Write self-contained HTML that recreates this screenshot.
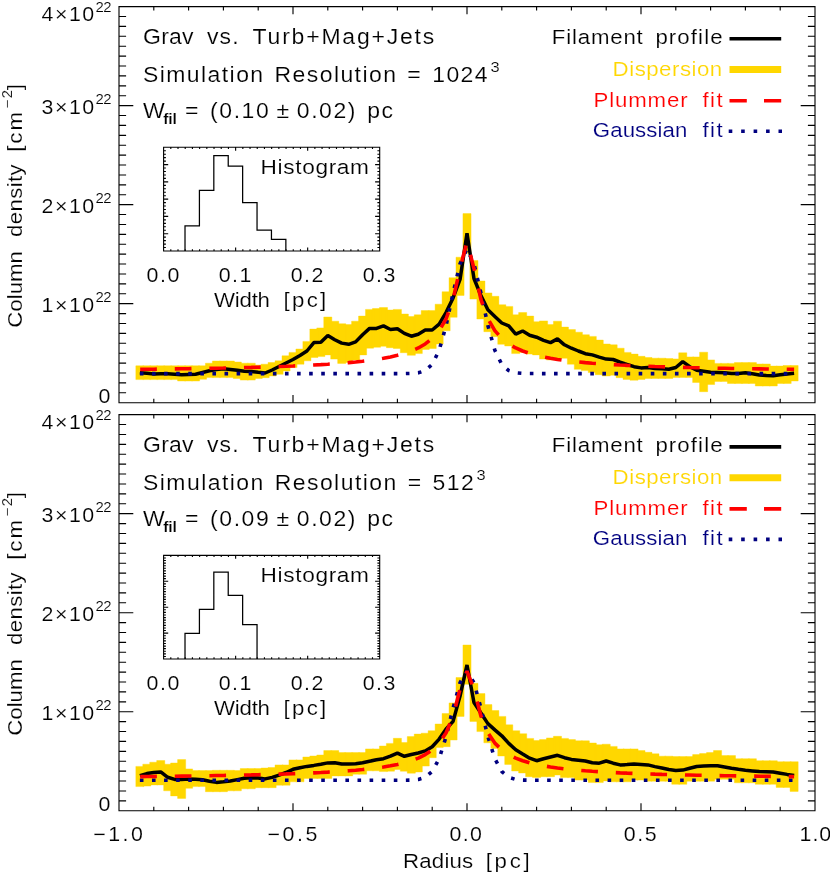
<!DOCTYPE html>
<html lang="en"><head><meta charset="utf-8"><title>Filament profiles</title>
<style>html,body{margin:0;padding:0;background:#fff;}body{width:830px;height:877px;overflow:hidden;font-family:"Liberation Sans", sans-serif;}svg text{font-family:"Liberation Sans", sans-serif;}</style></head>
<body>
<svg width="830" height="877" viewBox="0 0 830 877" style="display:block;font-family:&quot;Liberation Sans&quot;, sans-serif" font-family='Liberation Sans, sans-serif'>
<rect x="0" y="0" width="830" height="877" fill="#ffffff"/>
<g style="will-change:transform">
<path d="M135.83 365.80h8.1V379.60h-8.1zM142.79 365.80h8.1V379.60h-8.1zM149.75 365.80h8.1V379.60h-8.1zM156.71 365.80h8.1V379.60h-8.1zM163.67 365.80h8.1V379.60h-8.1zM170.63 365.80h8.1V379.60h-8.1zM177.59 365.80h8.1V381.00h-8.1zM184.55 365.80h8.1V381.00h-8.1zM191.51 365.80h8.1V381.00h-8.1zM198.47 365.80h8.1V379.30h-8.1zM205.43 363.20h8.1V377.60h-8.1zM212.39 361.00h8.1V377.60h-8.1zM219.35 361.00h8.1V377.60h-8.1zM226.31 361.00h8.1V377.60h-8.1zM233.27 362.00h8.1V378.50h-8.1zM240.23 363.20h8.1V380.10h-8.1zM247.19 363.20h8.1V380.10h-8.1zM254.15 365.00h8.1V378.50h-8.1zM261.11 364.20h8.1V377.70h-8.1zM268.07 362.50h8.1V376.00h-8.1zM275.03 360.80h8.1V374.30h-8.1zM281.99 355.80h8.1V371.00h-8.1zM288.95 352.40h8.1V367.60h-8.1zM295.91 349.00h8.1V364.20h-8.1zM302.87 341.40h8.1V360.80h-8.1zM309.83 329.10h8.1V357.50h-8.1zM316.79 327.90h8.1V356.60h-8.1zM323.75 317.00h8.1V354.90h-8.1zM330.71 321.20h8.1V359.10h-8.1zM337.67 323.70h8.1V363.40h-8.1zM344.63 324.60h8.1V362.50h-8.1zM351.59 321.20h8.1V360.00h-8.1zM358.55 316.10h8.1V354.90h-8.1zM365.51 309.40h8.1V348.20h-8.1zM372.47 308.50h8.1V347.30h-8.1zM379.43 307.50h8.1V346.30h-8.1zM386.39 310.00h8.1V347.70h-8.1zM393.35 309.40h8.1V348.50h-8.1zM400.31 314.00h8.1V352.70h-8.1zM407.27 316.50h8.1V355.30h-8.1zM414.23 314.80h8.1V353.60h-8.1zM421.19 310.60h8.1V349.40h-8.1zM428.15 310.60h8.1V348.50h-8.1zM435.11 304.20h8.1V344.00h-8.1zM442.07 291.70h8.1V330.80h-8.1zM449.03 277.70h8.1V317.30h-8.1zM455.99 257.20h8.1V295.40h-8.1zM462.95 213.60h8.1V253.30h-8.1zM469.91 260.60h8.1V299.10h-8.1zM476.87 281.00h8.1V319.00h-8.1zM483.83 292.90h8.1V331.70h-8.1zM490.79 296.30h8.1V336.70h-8.1zM497.75 304.70h8.1V344.30h-8.1zM504.71 306.40h8.1V346.00h-8.1zM511.67 314.80h8.1V353.60h-8.1zM518.63 312.50h8.1V352.50h-8.1zM525.59 316.10h8.1V354.10h-8.1zM532.55 321.70h8.1V354.90h-8.1zM539.51 320.90h8.1V359.10h-8.1zM546.47 324.60h8.1V360.00h-8.1zM553.43 321.20h8.1V358.80h-8.1zM560.39 327.10h8.1V358.30h-8.1zM567.35 329.60h8.1V364.20h-8.1zM574.31 332.20h8.1V369.30h-8.1zM581.27 334.70h8.1V370.60h-8.1zM588.23 336.40h8.1V372.60h-8.1zM595.19 340.10h8.1V374.70h-8.1zM602.15 344.00h8.1V376.00h-8.1zM609.11 344.80h8.1V375.20h-8.1zM616.07 348.20h8.1V377.70h-8.1zM623.03 352.40h8.1V379.40h-8.1zM629.99 354.10h8.1V380.20h-8.1zM636.95 356.30h8.1V379.40h-8.1zM643.91 357.50h8.1V378.50h-8.1zM650.87 358.20h8.1V378.40h-8.1zM657.83 358.20h8.1V378.40h-8.1zM664.79 358.60h8.1V378.40h-8.1zM671.75 358.90h8.1V377.40h-8.1zM678.71 352.80h8.1V377.40h-8.1zM685.67 356.90h8.1V377.40h-8.1zM692.63 356.90h8.1V382.50h-8.1zM699.59 352.20h8.1V391.70h-8.1zM706.55 359.90h8.1V384.50h-8.1zM713.51 363.40h8.1V381.40h-8.1zM720.47 363.40h8.1V381.40h-8.1zM727.43 363.40h8.1V383.50h-8.1zM734.39 362.60h8.1V383.50h-8.1zM741.35 362.60h8.1V383.50h-8.1zM748.31 362.60h8.1V383.50h-8.1zM755.27 364.00h8.1V386.00h-8.1zM762.23 364.00h8.1V386.00h-8.1zM769.19 366.10h8.1V386.00h-8.1zM776.15 366.10h8.1V383.50h-8.1zM783.11 365.50h8.1V383.50h-8.1zM790.07 365.50h8.1V381.00h-8.1z" fill="#ffd700" stroke="#ffd700" stroke-width="0.4"/>
<polyline points="139.88,372.80 146.84,373.35 153.80,373.90 160.76,373.80 167.72,373.70 174.68,374.20 181.64,374.70 188.60,374.45 195.56,374.20 202.52,372.50 209.48,370.80 216.44,369.50 223.40,368.80 230.36,369.50 237.32,370.30 244.28,371.20 251.24,371.50 258.20,372.30 265.16,373.00 272.12,370.00 279.08,366.50 286.04,363.00 293.00,359.50 299.96,355.50 306.92,351.00 313.88,342.60 320.84,342.30 327.80,335.50 334.76,339.70 341.72,343.10 348.68,344.30 355.64,341.90 362.60,334.70 369.56,328.40 376.52,328.40 383.48,325.90 390.44,329.50 397.40,328.80 404.36,333.40 411.32,336.20 418.28,334.20 425.24,330.00 432.20,330.00 439.16,324.10 446.12,312.30 453.08,297.90 460.04,279.50 467.00,233.30 473.96,278.50 480.92,295.50 487.88,309.80 494.84,316.50 501.80,323.00 508.76,325.80 515.72,334.20 522.68,331.00 529.64,335.20 536.60,337.20 543.56,340.30 550.52,342.60 557.48,338.90 564.44,344.80 571.40,348.20 578.36,351.00 585.32,353.70 592.28,354.90 599.24,357.10 606.20,359.10 613.16,359.50 620.12,362.20 627.08,364.50 634.04,366.70 641.00,367.90 647.96,367.60 654.92,368.40 661.88,368.80 668.84,369.20 675.80,367.50 682.76,361.60 689.72,366.70 696.68,370.20 703.64,371.20 710.60,372.20 717.56,372.50 724.52,372.80 731.48,373.50 738.44,373.40 745.40,372.80 752.36,373.80 759.32,374.90 766.28,375.50 773.24,375.70 780.20,374.80 787.16,373.90 794.12,373.30" fill="none" stroke="#000000" stroke-width="3.5" stroke-linejoin="bevel"/>
<polyline points="139.88,373.59 146.84,373.59 153.80,373.59 160.76,373.59 167.72,373.59 174.68,373.59 181.64,373.59 188.60,373.59 195.56,373.59 202.52,373.59 209.48,373.59 216.44,373.59 223.40,373.59 230.36,373.59 237.32,373.59 244.28,373.59 251.24,373.59 258.20,373.59 265.16,373.59 272.12,373.59 279.08,373.59 286.04,373.59 293.00,373.59 299.96,373.59 306.92,373.59 313.88,373.59 320.84,373.59 327.80,373.59 334.76,373.59 341.72,373.59 348.68,373.59 355.64,373.59 362.60,373.59 369.56,373.59 376.52,373.59 383.48,373.59 390.44,373.59 397.40,373.58 404.36,373.56 411.32,373.42 418.28,372.82 425.24,370.63 432.20,364.38 439.16,350.26 446.12,325.52 453.08,293.01 460.04,263.74 467.00,248.89 473.96,263.74 480.92,293.01 487.88,325.52 494.84,350.26 501.80,364.38 508.76,370.63 515.72,372.82 522.68,373.42 529.64,373.56 536.60,373.58 543.56,373.59 550.52,373.59 557.48,373.59 564.44,373.59 571.40,373.59 578.36,373.59 585.32,373.59 592.28,373.59 599.24,373.59 606.20,373.59 613.16,373.59 620.12,373.59 627.08,373.59 634.04,373.59 641.00,373.59 647.96,373.59 654.92,373.59 661.88,373.59 668.84,373.59 675.80,373.59 682.76,373.59 689.72,373.59 696.68,373.59 703.64,373.59 710.60,373.59 717.56,373.59 724.52,373.59 731.48,373.59 738.44,373.59 745.40,373.59 752.36,373.59 759.32,373.59 766.28,373.59 773.24,373.59 780.20,373.59 787.16,373.59 794.12,373.59" fill="none" stroke="#000080" stroke-width="3.6" stroke-dasharray="3.6 8.49" stroke-dashoffset="0" stroke-linejoin="bevel"/>
<polyline points="139.88,369.36 146.84,369.27 153.80,369.19 160.76,369.10 167.72,369.00 174.68,368.90 181.64,368.80 188.60,368.69 195.56,368.57 202.52,368.45 209.48,368.32 216.44,368.19 223.40,368.05 230.36,367.89 237.32,367.73 244.28,367.56 251.24,367.38 258.20,367.19 265.16,366.98 272.12,366.76 279.08,366.52 286.04,366.27 293.00,365.99 299.96,365.69 306.92,365.37 313.88,365.02 320.84,364.63 327.80,364.20 334.76,363.73 341.72,363.21 348.68,362.62 355.64,361.97 362.60,361.23 369.56,360.38 376.52,359.41 383.48,358.27 390.44,356.94 397.40,355.34 404.36,353.40 411.32,351.00 418.28,347.94 425.24,343.94 432.20,338.48 439.16,330.66 446.12,318.75 453.08,299.37 460.04,268.44 467.00,241.46 473.96,268.44 480.92,299.37 487.88,318.75 494.84,330.66 501.80,338.48 508.76,343.94 515.72,347.94 522.68,351.00 529.64,353.40 536.60,355.34 543.56,356.94 550.52,358.27 557.48,359.41 564.44,360.38 571.40,361.23 578.36,361.97 585.32,362.62 592.28,363.21 599.24,363.73 606.20,364.20 613.16,364.63 620.12,365.02 627.08,365.37 634.04,365.69 641.00,365.99 647.96,366.27 654.92,366.52 661.88,366.76 668.84,366.98 675.80,367.19 682.76,367.38 689.72,367.56 696.68,367.73 703.64,367.89 710.60,368.05 717.56,368.19 724.52,368.32 731.48,368.45 738.44,368.57 745.40,368.69 752.36,368.80 759.32,368.90 766.28,369.00 773.24,369.10 780.20,369.19 787.16,369.27 794.12,369.36" fill="none" stroke="#ff0000" stroke-width="3.6" stroke-dasharray="16.7 17.9" stroke-dashoffset="-0.3" stroke-linejoin="bevel"/>
<path d="M119.00 6.60H815.00V402.70H119.00ZM153.80 402.70v-3.90M153.80 6.60v3.90M188.60 402.70v-3.90M188.60 6.60v3.90M223.40 402.70v-3.90M223.40 6.60v3.90M258.20 402.70v-3.90M258.20 6.60v3.90M293.00 402.70v-7.60M293.00 6.60v7.60M327.80 402.70v-3.90M327.80 6.60v3.90M362.60 402.70v-3.90M362.60 6.60v3.90M397.40 402.70v-3.90M397.40 6.60v3.90M432.20 402.70v-3.90M432.20 6.60v3.90M467.00 402.70v-7.60M467.00 6.60v7.60M501.80 402.70v-3.90M501.80 6.60v3.90M536.60 402.70v-3.90M536.60 6.60v3.90M571.40 402.70v-3.90M571.40 6.60v3.90M606.20 402.70v-3.90M606.20 6.60v3.90M641.00 402.70v-7.60M641.00 6.60v7.60M675.80 402.70v-3.90M675.80 6.60v3.90M710.60 402.70v-3.90M710.60 6.60v3.90M745.40 402.70v-3.90M745.40 6.60v3.90M780.20 402.70v-3.90M780.20 6.60v3.90M119.00 392.80h7.10M815.00 392.80h-7.10M119.00 382.89h7.10M815.00 382.89h-7.10M119.00 372.99h7.10M815.00 372.99h-7.10M119.00 363.09h7.10M815.00 363.09h-7.10M119.00 353.19h7.10M815.00 353.19h-7.10M119.00 343.28h7.10M815.00 343.28h-7.10M119.00 333.38h7.10M815.00 333.38h-7.10M119.00 323.48h7.10M815.00 323.48h-7.10M119.00 313.58h7.10M815.00 313.58h-7.10M119.00 303.68h14.30M815.00 303.68h-14.30M119.00 293.77h7.10M815.00 293.77h-7.10M119.00 283.87h7.10M815.00 283.87h-7.10M119.00 273.97h7.10M815.00 273.97h-7.10M119.00 264.06h7.10M815.00 264.06h-7.10M119.00 254.16h7.10M815.00 254.16h-7.10M119.00 244.26h7.10M815.00 244.26h-7.10M119.00 234.36h7.10M815.00 234.36h-7.10M119.00 224.46h7.10M815.00 224.46h-7.10M119.00 214.55h7.10M815.00 214.55h-7.10M119.00 204.65h14.30M815.00 204.65h-14.30M119.00 194.75h7.10M815.00 194.75h-7.10M119.00 184.85h7.10M815.00 184.85h-7.10M119.00 174.94h7.10M815.00 174.94h-7.10M119.00 165.04h7.10M815.00 165.04h-7.10M119.00 155.14h7.10M815.00 155.14h-7.10M119.00 145.24h7.10M815.00 145.24h-7.10M119.00 135.33h7.10M815.00 135.33h-7.10M119.00 125.43h7.10M815.00 125.43h-7.10M119.00 115.53h7.10M815.00 115.53h-7.10M119.00 105.63h14.30M815.00 105.63h-14.30M119.00 95.72h7.10M815.00 95.72h-7.10M119.00 85.82h7.10M815.00 85.82h-7.10M119.00 75.92h7.10M815.00 75.92h-7.10M119.00 66.01h7.10M815.00 66.01h-7.10M119.00 56.11h7.10M815.00 56.11h-7.10M119.00 46.21h7.10M815.00 46.21h-7.10M119.00 36.31h7.10M815.00 36.31h-7.10M119.00 26.41h7.10M815.00 26.41h-7.10M119.00 16.50h7.10M815.00 16.50h-7.10" fill="none" stroke="#000" stroke-width="1.12" stroke-linecap="butt" stroke-linejoin="miter"/>
<text transform="translate(41.60 311.88) scale(1.080 1)" font-size="19.80" text-anchor="start" fill="#000" textLength="48.70" lengthAdjust="spacing" stroke="#fff" stroke-width="0.15" stroke-linejoin="round" >1×10</text>
<text transform="translate(95.60 302.07) scale(1.080 1)" font-size="13.80" text-anchor="start" fill="#000" textLength="14.81" lengthAdjust="spacing" stroke="#fff" stroke-width="0.15" stroke-linejoin="round" >22</text>
<text transform="translate(41.60 212.85) scale(1.080 1)" font-size="19.80" text-anchor="start" fill="#000" textLength="48.70" lengthAdjust="spacing" stroke="#fff" stroke-width="0.15" stroke-linejoin="round" >2×10</text>
<text transform="translate(95.60 203.05) scale(1.080 1)" font-size="13.80" text-anchor="start" fill="#000" textLength="14.81" lengthAdjust="spacing" stroke="#fff" stroke-width="0.15" stroke-linejoin="round" >22</text>
<text transform="translate(41.60 113.83) scale(1.080 1)" font-size="19.80" text-anchor="start" fill="#000" textLength="48.70" lengthAdjust="spacing" stroke="#fff" stroke-width="0.15" stroke-linejoin="round" >3×10</text>
<text transform="translate(95.60 104.03) scale(1.080 1)" font-size="13.80" text-anchor="start" fill="#000" textLength="14.81" lengthAdjust="spacing" stroke="#fff" stroke-width="0.15" stroke-linejoin="round" >22</text>
<text transform="translate(41.60 21.40) scale(1.080 1)" font-size="19.80" text-anchor="start" fill="#000" textLength="48.70" lengthAdjust="spacing" stroke="#fff" stroke-width="0.15" stroke-linejoin="round" >4×10</text>
<text transform="translate(95.60 11.60) scale(1.080 1)" font-size="13.80" text-anchor="start" fill="#000" textLength="14.81" lengthAdjust="spacing" stroke="#fff" stroke-width="0.15" stroke-linejoin="round" >22</text>
<text transform="translate(98.60 402.50) scale(1.080 1)" font-size="19.80" text-anchor="start" fill="#000" textLength="11.48" lengthAdjust="spacing" stroke="#fff" stroke-width="0.15" stroke-linejoin="round" >0</text>
<g transform="translate(22.3 327.80) rotate(-90)">
<text transform="translate(0.00 0.00) scale(1.080 1)" font-size="20.60" text-anchor="start" fill="#000" textLength="71.11" lengthAdjust="spacing" stroke="#fff" stroke-width="0.15" stroke-linejoin="round" >Column</text>
<text transform="translate(90.90 0.00) scale(1.080 1)" font-size="20.60" text-anchor="start" fill="#000" textLength="67.22" lengthAdjust="spacing" stroke="#fff" stroke-width="0.15" stroke-linejoin="round" >density</text>
<text transform="translate(176.00 0.00) scale(1.080 1)" font-size="20.60" text-anchor="start" fill="#000" textLength="36.85" lengthAdjust="spacing" stroke="#fff" stroke-width="0.15" stroke-linejoin="round" >[cm</text>
<text transform="translate(219.30 -10.30) scale(1.080 1)" font-size="13.80" text-anchor="start" fill="#000" textLength="17.22" lengthAdjust="spacing" stroke="#fff" stroke-width="0.15" stroke-linejoin="round" >−2</text>
<text transform="translate(237.60 0.00) scale(1.080 1)" font-size="20.60" text-anchor="start" fill="#000" stroke="#fff" stroke-width="0.15" stroke-linejoin="round" >]</text>
</g>
<text transform="translate(143.00 44.20) scale(1.080 1)" font-size="21.30" text-anchor="start" fill="#000" textLength="46.85" lengthAdjust="spacing" stroke="#fff" stroke-width="0.15" stroke-linejoin="round" >Grav</text>
<text transform="translate(207.00 44.20) scale(1.080 1)" font-size="21.30" text-anchor="start" fill="#000" textLength="29.26" lengthAdjust="spacing" stroke="#fff" stroke-width="0.15" stroke-linejoin="round" >vs.</text>
<text transform="translate(252.60 44.20) scale(1.080 1)" font-size="21.30" text-anchor="start" fill="#000" textLength="168.15" lengthAdjust="spacing" stroke="#fff" stroke-width="0.15" stroke-linejoin="round" >Turb+Mag+Jets</text>
<text transform="translate(143.00 81.60) scale(1.080 1)" font-size="21.30" text-anchor="start" fill="#000" word-spacing="2.00" textLength="319.07" lengthAdjust="spacing" stroke="#fff" stroke-width="0.15" stroke-linejoin="round" >Simulation Resolution = 1024</text>
<text transform="translate(490.40 72.40) scale(1.080 1)" font-size="15.20" text-anchor="start" fill="#000" stroke="#fff" stroke-width="0.15" stroke-linejoin="round" >3</text>
<text transform="translate(143.00 117.60) scale(1.080 1)" font-size="21.30" text-anchor="start" fill="#000" textLength="17.04" lengthAdjust="spacing" stroke="#fff" stroke-width="0.15" stroke-linejoin="round" >W</text>
<text transform="translate(163.20 124.00) scale(1.080 1)" font-size="14.60" text-anchor="start" fill="#000" textLength="12.59" lengthAdjust="spacing" font-weight="bold" stroke="#fff" stroke-width="0.15" stroke-linejoin="round" >fil</text>
<text transform="translate(185.00 117.60) scale(1.080 1)" font-size="21.30" text-anchor="start" fill="#000" word-spacing="2.00" textLength="192.59" lengthAdjust="spacing" stroke="#fff" stroke-width="0.15" stroke-linejoin="round" >= (0.10 ± 0.02) pc</text>
<text transform="translate(551.80 44.40) scale(1.080 1)" font-size="20.60" text-anchor="start" fill="#000" textLength="84.26" lengthAdjust="spacing" stroke="#fff" stroke-width="0.15" stroke-linejoin="round" >Filament</text>
<text transform="translate(655.40 44.40) scale(1.080 1)" font-size="20.60" text-anchor="start" fill="#000" textLength="62.22" lengthAdjust="spacing" stroke="#fff" stroke-width="0.15" stroke-linejoin="round" >profile</text>
<text transform="translate(722.20 75.60) scale(1.080 1)" font-size="20.60" text-anchor="end" fill="#ffd700" textLength="101.48" lengthAdjust="spacing" stroke="#fff" stroke-width="0.15" stroke-linejoin="round" >Dispersion</text>
<text transform="translate(593.60 106.60) scale(1.080 1)" font-size="20.60" text-anchor="start" fill="#ff0000" textLength="87.04" lengthAdjust="spacing" stroke="#fff" stroke-width="0.15" stroke-linejoin="round" >Plummer</text>
<text transform="translate(702.40 106.60) scale(1.080 1)" font-size="20.60" text-anchor="start" fill="#ff0000" textLength="18.70" lengthAdjust="spacing" stroke="#fff" stroke-width="0.15" stroke-linejoin="round" >fit</text>
<text transform="translate(592.80 137.20) scale(1.080 1)" font-size="20.60" text-anchor="start" fill="#000080" textLength="87.59" lengthAdjust="spacing" stroke="#fff" stroke-width="0.15" stroke-linejoin="round" >Gaussian</text>
<text transform="translate(702.40 137.20) scale(1.080 1)" font-size="20.60" text-anchor="start" fill="#000080" textLength="18.70" lengthAdjust="spacing" stroke="#fff" stroke-width="0.15" stroke-linejoin="round" >fit</text>
<path d="M729.5 38.80H781.2" stroke="#000" stroke-width="3.6" fill="none"/>
<path d="M729.5 69.60H781.2" stroke="#ffd700" stroke-width="7" fill="none"/>
<path d="M729.5 100.80H781.2" stroke="#ff0000" stroke-width="3.6" stroke-dasharray="17.3 17.2" fill="none"/>
<path d="M728.7 131.30H782" stroke="#000080" stroke-width="3.6" stroke-dasharray="3.6 8.85" fill="none"/>
<path d="M163.60 147.30H379.70V251.00H163.60ZM170.80 251.00v-1.70M170.80 147.30v1.70M178.01 251.00v-1.70M178.01 147.30v1.70M185.21 251.00v-1.70M185.21 147.30v1.70M192.41 251.00v-1.70M192.41 147.30v1.70M199.62 251.00v-1.70M199.62 147.30v1.70M206.82 251.00v-1.70M206.82 147.30v1.70M214.02 251.00v-1.70M214.02 147.30v1.70M221.23 251.00v-1.70M221.23 147.30v1.70M228.43 251.00v-1.70M228.43 147.30v1.70M235.63 251.00v-3.40M235.63 147.30v3.40M242.84 251.00v-1.70M242.84 147.30v1.70M250.04 251.00v-1.70M250.04 147.30v1.70M257.24 251.00v-1.70M257.24 147.30v1.70M264.45 251.00v-1.70M264.45 147.30v1.70M271.65 251.00v-1.70M271.65 147.30v1.70M278.85 251.00v-1.70M278.85 147.30v1.70M286.06 251.00v-1.70M286.06 147.30v1.70M293.26 251.00v-1.70M293.26 147.30v1.70M300.46 251.00v-1.70M300.46 147.30v1.70M307.67 251.00v-3.40M307.67 147.30v3.40M314.87 251.00v-1.70M314.87 147.30v1.70M322.07 251.00v-1.70M322.07 147.30v1.70M329.28 251.00v-1.70M329.28 147.30v1.70M336.48 251.00v-1.70M336.48 147.30v1.70M343.68 251.00v-1.70M343.68 147.30v1.70M350.89 251.00v-1.70M350.89 147.30v1.70M358.09 251.00v-1.70M358.09 147.30v1.70M365.29 251.00v-1.70M365.29 147.30v1.70M372.50 251.00v-1.70M372.50 147.30v1.70M163.60 247.54h2.30M379.70 247.54h-2.30M163.60 244.09h2.30M379.70 244.09h-2.30M163.60 240.63h2.30M379.70 240.63h-2.30M163.60 237.17h2.30M379.70 237.17h-2.30M163.60 233.72h4.60M379.70 233.72h-4.60M163.60 230.26h2.30M379.70 230.26h-2.30M163.60 226.80h2.30M379.70 226.80h-2.30M163.60 223.35h2.30M379.70 223.35h-2.30M163.60 219.89h2.30M379.70 219.89h-2.30M163.60 216.43h4.60M379.70 216.43h-4.60M163.60 212.98h2.30M379.70 212.98h-2.30M163.60 209.52h2.30M379.70 209.52h-2.30M163.60 206.06h2.30M379.70 206.06h-2.30M163.60 202.61h2.30M379.70 202.61h-2.30M163.60 199.15h4.60M379.70 199.15h-4.60M163.60 195.69h2.30M379.70 195.69h-2.30M163.60 192.24h2.30M379.70 192.24h-2.30M163.60 188.78h2.30M379.70 188.78h-2.30M163.60 185.32h2.30M379.70 185.32h-2.30M163.60 181.87h4.60M379.70 181.87h-4.60M163.60 178.41h2.30M379.70 178.41h-2.30M163.60 174.95h2.30M379.70 174.95h-2.30M163.60 171.50h2.30M379.70 171.50h-2.30M163.60 168.04h2.30M379.70 168.04h-2.30M163.60 164.58h4.60M379.70 164.58h-4.60M163.60 161.13h2.30M379.70 161.13h-2.30M163.60 157.67h2.30M379.70 157.67h-2.30M163.60 154.21h2.30M379.70 154.21h-2.30M163.60 150.76h2.30M379.70 150.76h-2.30" fill="none" stroke="#000" stroke-width="1.12"/>
<path d="M185.01 251.00V225.90H199.42V190.40H213.82V155.60H228.23V166.00H242.64V202.60H257.04V230.20H271.45V239.40H285.86V251.00" fill="none" stroke="#000" stroke-width="1.25" stroke-linejoin="miter"/>
<text transform="translate(260.60 174.30) scale(1.080 1)" font-size="21.00" text-anchor="start" fill="#000" textLength="100.37" lengthAdjust="spacing" stroke="#fff" stroke-width="0.15" stroke-linejoin="round" >Histogram</text>
<text transform="translate(146.60 282.20) scale(1.080 1)" font-size="19.80" text-anchor="start" fill="#000" textLength="30.37" lengthAdjust="spacing" stroke="#fff" stroke-width="0.15" stroke-linejoin="round" >0.0</text>
<text transform="translate(218.63 282.20) scale(1.080 1)" font-size="19.80" text-anchor="start" fill="#000" textLength="30.37" lengthAdjust="spacing" stroke="#fff" stroke-width="0.15" stroke-linejoin="round" >0.1</text>
<text transform="translate(290.67 282.20) scale(1.080 1)" font-size="19.80" text-anchor="start" fill="#000" textLength="30.37" lengthAdjust="spacing" stroke="#fff" stroke-width="0.15" stroke-linejoin="round" >0.2</text>
<text transform="translate(362.70 282.20) scale(1.080 1)" font-size="19.80" text-anchor="start" fill="#000" textLength="30.37" lengthAdjust="spacing" stroke="#fff" stroke-width="0.15" stroke-linejoin="round" >0.3</text>
<text transform="translate(214.00 307.20) scale(1.080 1)" font-size="20.60" text-anchor="start" fill="#000" textLength="51.85" lengthAdjust="spacing" stroke="#fff" stroke-width="0.15" stroke-linejoin="round" >Width</text>
<text transform="translate(283.60 307.20) scale(1.080 1)" font-size="20.60" text-anchor="start" fill="#000" textLength="39.44" lengthAdjust="spacing" stroke="#fff" stroke-width="0.15" stroke-linejoin="round" >[pc]</text>
<path d="M135.83 766.40h8.1V786.60h-8.1zM142.79 764.20h8.1V786.10h-8.1zM149.75 762.20h8.1V784.90h-8.1zM156.71 760.50h8.1V784.90h-8.1zM163.67 764.20h8.1V790.80h-8.1zM170.63 763.00h8.1V795.90h-8.1zM177.59 759.60h8.1V798.40h-8.1zM184.55 768.90h8.1V788.30h-8.1zM191.51 770.60h8.1V786.60h-8.1zM198.47 770.60h8.1V786.60h-8.1zM205.43 770.60h8.1V791.70h-8.1zM212.39 770.30h8.1V791.70h-8.1zM219.35 770.30h8.1V791.70h-8.1zM226.31 770.30h8.1V790.80h-8.1zM233.27 770.60h8.1V790.80h-8.1zM240.23 768.60h8.1V788.80h-8.1zM247.19 768.60h8.1V788.80h-8.1zM254.15 768.60h8.1V787.70h-8.1zM261.11 768.00h8.1V787.70h-8.1zM268.07 767.50h8.1V787.70h-8.1zM275.03 764.90h8.1V785.20h-8.1zM281.99 764.90h8.1V785.20h-8.1zM288.95 759.90h8.1V781.80h-8.1zM295.91 759.90h8.1V781.80h-8.1zM302.87 757.00h8.1V778.40h-8.1zM309.83 756.00h8.1V778.40h-8.1zM316.79 755.00h8.1V778.40h-8.1zM323.75 750.60h8.1V778.40h-8.1zM330.71 750.60h8.1V775.90h-8.1zM337.67 752.60h8.1V775.90h-8.1zM344.63 752.60h8.1V775.90h-8.1zM351.59 752.60h8.1V774.20h-8.1zM358.55 752.60h8.1V774.20h-8.1zM365.51 748.90h8.1V770.80h-8.1zM372.47 748.90h8.1V770.80h-8.1zM379.43 746.00h8.1V771.60h-8.1zM386.39 743.40h8.1V771.20h-8.1zM393.35 738.30h8.1V769.50h-8.1zM400.31 742.50h8.1V771.20h-8.1zM407.27 736.60h8.1V773.20h-8.1zM414.23 734.10h8.1V772.00h-8.1zM421.19 733.20h8.1V766.10h-8.1zM428.15 730.70h8.1V757.70h-8.1zM435.11 724.00h8.1V747.60h-8.1zM442.07 713.50h8.1V746.70h-8.1zM449.03 702.90h8.1V740.00h-8.1zM455.99 677.50h8.1V716.40h-8.1zM462.95 645.00h8.1V684.30h-8.1zM469.91 683.30h8.1V721.40h-8.1zM476.87 693.60h8.1V731.60h-8.1zM483.83 704.60h8.1V742.80h-8.1zM490.79 710.50h8.1V748.40h-8.1zM497.75 716.40h8.1V756.00h-8.1zM504.71 724.80h8.1V764.40h-8.1zM511.67 730.70h8.1V771.00h-8.1zM518.63 733.70h8.1V773.00h-8.1zM525.59 738.40h8.1V776.70h-8.1zM532.55 740.50h8.1V777.60h-8.1zM539.51 739.60h8.1V776.70h-8.1zM546.47 737.90h8.1V776.70h-8.1zM553.43 736.30h8.1V775.00h-8.1zM560.39 738.40h8.1V777.60h-8.1zM567.35 739.60h8.1V777.60h-8.1zM574.31 740.80h8.1V780.10h-8.1zM581.27 740.80h8.1V780.10h-8.1zM588.23 743.00h8.1V782.60h-8.1zM595.19 744.70h8.1V782.60h-8.1zM602.15 744.20h8.1V780.90h-8.1zM609.11 746.40h8.1V781.80h-8.1zM616.07 748.90h8.1V781.80h-8.1zM623.03 748.90h8.1V781.80h-8.1zM629.99 748.90h8.1V780.10h-8.1zM636.95 750.60h8.1V780.10h-8.1zM643.91 752.30h8.1V781.20h-8.1zM650.87 753.80h8.1V781.20h-8.1zM657.83 756.20h8.1V781.20h-8.1zM664.79 756.20h8.1V781.20h-8.1zM671.75 756.60h8.1V784.30h-8.1zM678.71 756.60h8.1V784.30h-8.1zM685.67 756.60h8.1V781.20h-8.1zM692.63 754.60h8.1V781.20h-8.1zM699.59 753.50h8.1V781.20h-8.1zM706.55 752.50h8.1V781.20h-8.1zM713.51 750.50h8.1V779.20h-8.1zM720.47 755.60h8.1V779.20h-8.1zM727.43 755.60h8.1V779.20h-8.1zM734.39 758.70h8.1V782.80h-8.1zM741.35 758.70h8.1V782.80h-8.1zM748.31 758.70h8.1V782.80h-8.1zM755.27 760.70h8.1V784.30h-8.1zM762.23 760.70h8.1V784.30h-8.1zM769.19 760.70h8.1V784.30h-8.1zM776.15 761.70h8.1V787.40h-8.1zM783.11 761.70h8.1V787.40h-8.1zM790.07 761.70h8.1V791.40h-8.1z" fill="#ffd700" stroke="#ffd700" stroke-width="0.4"/>
<polyline points="139.88,775.60 146.84,773.60 153.80,772.60 160.76,771.90 167.72,777.30 174.68,779.40 181.64,779.40 188.60,779.10 195.56,779.20 202.52,779.80 209.48,781.20 216.44,782.40 223.40,781.80 230.36,781.00 237.32,779.60 244.28,778.20 251.24,777.80 258.20,777.90 265.16,778.90 272.12,777.40 279.08,775.20 286.04,772.50 293.00,769.30 299.96,767.70 306.92,766.40 313.88,765.40 320.84,764.20 327.80,762.90 334.76,762.70 341.72,764.00 348.68,764.10 355.64,763.80 362.60,762.70 369.56,761.20 376.52,759.80 383.48,758.70 390.44,756.20 397.40,753.10 404.36,756.30 411.32,754.50 418.28,753.00 425.24,750.90 432.20,746.70 439.16,739.10 446.12,729.00 453.08,721.40 460.04,696.00 467.00,665.00 473.96,702.50 480.92,713.00 487.88,723.60 494.84,729.90 501.80,735.80 508.76,743.40 515.72,749.70 522.68,754.00 529.64,758.20 536.60,760.70 543.56,758.70 550.52,757.00 557.48,755.30 564.44,757.70 571.40,759.40 578.36,760.20 585.32,761.00 592.28,762.70 599.24,763.20 606.20,761.00 613.16,763.20 620.12,764.90 627.08,764.60 634.04,764.10 641.00,764.40 647.96,764.90 654.92,766.60 661.88,768.00 668.84,769.50 675.80,770.40 682.76,770.10 689.72,768.30 696.68,766.50 703.64,766.00 710.60,765.80 717.56,765.80 724.52,767.00 731.48,768.30 738.44,769.30 745.40,770.20 752.36,770.90 759.32,771.60 766.28,771.80 773.24,772.00 780.20,773.20 787.16,774.40 794.12,775.50" fill="none" stroke="#000000" stroke-width="3.5" stroke-linejoin="bevel"/>
<polyline points="139.88,780.25 146.84,780.25 153.80,780.25 160.76,780.25 167.72,780.25 174.68,780.25 181.64,780.25 188.60,780.25 195.56,780.25 202.52,780.25 209.48,780.25 216.44,780.25 223.40,780.25 230.36,780.25 237.32,780.25 244.28,780.25 251.24,780.25 258.20,780.25 265.16,780.25 272.12,780.25 279.08,780.25 286.04,780.25 293.00,780.25 299.96,780.25 306.92,780.25 313.88,780.25 320.84,780.25 327.80,780.25 334.76,780.25 341.72,780.25 348.68,780.25 355.64,780.25 362.60,780.25 369.56,780.25 376.52,780.25 383.48,780.25 390.44,780.25 397.40,780.25 404.36,780.22 411.32,780.08 418.28,779.47 425.24,777.36 432.20,771.51 439.16,758.65 446.12,736.58 453.08,708.06 460.04,682.64 467.00,671.31 473.96,682.64 480.92,708.06 487.88,736.58 494.84,758.65 501.80,771.51 508.76,777.36 515.72,779.47 522.68,780.08 529.64,780.22 536.60,780.25 543.56,780.25 550.52,780.25 557.48,780.25 564.44,780.25 571.40,780.25 578.36,780.25 585.32,780.25 592.28,780.25 599.24,780.25 606.20,780.25 613.16,780.25 620.12,780.25 627.08,780.25 634.04,780.25 641.00,780.25 647.96,780.25 654.92,780.25 661.88,780.25 668.84,780.25 675.80,780.25 682.76,780.25 689.72,780.25 696.68,780.25 703.64,780.25 710.60,780.25 717.56,780.25 724.52,780.25 731.48,780.25 738.44,780.25 745.40,780.25 752.36,780.25 759.32,780.25 766.28,780.25 773.24,780.25 780.20,780.25 787.16,780.25 794.12,780.25" fill="none" stroke="#000080" stroke-width="3.6" stroke-dasharray="3.6 8.49" stroke-dashoffset="0" stroke-linejoin="bevel"/>
<polyline points="139.88,776.59 146.84,776.51 153.80,776.44 160.76,776.36 167.72,776.28 174.68,776.19 181.64,776.10 188.60,776.01 195.56,775.91 202.52,775.80 209.48,775.69 216.44,775.57 223.40,775.45 230.36,775.32 237.32,775.18 244.28,775.03 251.24,774.88 258.20,774.71 265.16,774.53 272.12,774.34 279.08,774.14 286.04,773.91 293.00,773.67 299.96,773.42 306.92,773.14 313.88,772.83 320.84,772.49 327.80,772.12 334.76,771.72 341.72,771.27 348.68,770.76 355.64,770.19 362.60,769.55 369.56,768.82 376.52,767.98 383.48,766.99 390.44,765.84 397.40,764.46 404.36,762.78 411.32,760.70 418.28,758.06 425.24,754.59 432.20,749.87 439.16,743.10 446.12,732.79 453.08,716.02 460.04,689.25 467.00,671.20 473.96,689.25 480.92,716.02 487.88,732.79 494.84,743.10 501.80,749.87 508.76,754.59 515.72,758.06 522.68,760.70 529.64,762.78 536.60,764.46 543.56,765.84 550.52,766.99 557.48,767.98 564.44,768.82 571.40,769.55 578.36,770.19 585.32,770.76 592.28,771.27 599.24,771.72 606.20,772.12 613.16,772.49 620.12,772.83 627.08,773.14 634.04,773.42 641.00,773.67 647.96,773.91 654.92,774.14 661.88,774.34 668.84,774.53 675.80,774.71 682.76,774.88 689.72,775.03 696.68,775.18 703.64,775.32 710.60,775.45 717.56,775.57 724.52,775.69 731.48,775.80 738.44,775.91 745.40,776.01 752.36,776.10 759.32,776.19 766.28,776.28 773.24,776.36 780.20,776.44 787.16,776.51 794.12,776.59" fill="none" stroke="#ff0000" stroke-width="3.6" stroke-dasharray="16.7 17.9" stroke-dashoffset="-0.3" stroke-linejoin="bevel"/>
<path d="M119.00 414.65H815.00V810.75H119.00ZM153.80 810.75v-3.90M153.80 414.65v3.90M188.60 810.75v-3.90M188.60 414.65v3.90M223.40 810.75v-3.90M223.40 414.65v3.90M258.20 810.75v-3.90M258.20 414.65v3.90M293.00 810.75v-7.60M293.00 414.65v7.60M327.80 810.75v-3.90M327.80 414.65v3.90M362.60 810.75v-3.90M362.60 414.65v3.90M397.40 810.75v-3.90M397.40 414.65v3.90M432.20 810.75v-3.90M432.20 414.65v3.90M467.00 810.75v-7.60M467.00 414.65v7.60M501.80 810.75v-3.90M501.80 414.65v3.90M536.60 810.75v-3.90M536.60 414.65v3.90M571.40 810.75v-3.90M571.40 414.65v3.90M606.20 810.75v-3.90M606.20 414.65v3.90M641.00 810.75v-7.60M641.00 414.65v7.60M675.80 810.75v-3.90M675.80 414.65v3.90M710.60 810.75v-3.90M710.60 414.65v3.90M745.40 810.75v-3.90M745.40 414.65v3.90M780.20 810.75v-3.90M780.20 414.65v3.90M119.00 800.85h7.10M815.00 800.85h-7.10M119.00 790.95h7.10M815.00 790.95h-7.10M119.00 781.04h7.10M815.00 781.04h-7.10M119.00 771.14h7.10M815.00 771.14h-7.10M119.00 761.24h7.10M815.00 761.24h-7.10M119.00 751.34h7.10M815.00 751.34h-7.10M119.00 741.43h7.10M815.00 741.43h-7.10M119.00 731.53h7.10M815.00 731.53h-7.10M119.00 721.63h7.10M815.00 721.63h-7.10M119.00 711.73h14.30M815.00 711.73h-14.30M119.00 701.82h7.10M815.00 701.82h-7.10M119.00 691.92h7.10M815.00 691.92h-7.10M119.00 682.02h7.10M815.00 682.02h-7.10M119.00 672.12h7.10M815.00 672.12h-7.10M119.00 662.21h7.10M815.00 662.21h-7.10M119.00 652.31h7.10M815.00 652.31h-7.10M119.00 642.41h7.10M815.00 642.41h-7.10M119.00 632.50h7.10M815.00 632.50h-7.10M119.00 622.60h7.10M815.00 622.60h-7.10M119.00 612.70h14.30M815.00 612.70h-14.30M119.00 602.80h7.10M815.00 602.80h-7.10M119.00 592.89h7.10M815.00 592.89h-7.10M119.00 582.99h7.10M815.00 582.99h-7.10M119.00 573.09h7.10M815.00 573.09h-7.10M119.00 563.19h7.10M815.00 563.19h-7.10M119.00 553.29h7.10M815.00 553.29h-7.10M119.00 543.38h7.10M815.00 543.38h-7.10M119.00 533.48h7.10M815.00 533.48h-7.10M119.00 523.58h7.10M815.00 523.58h-7.10M119.00 513.68h14.30M815.00 513.68h-14.30M119.00 503.77h7.10M815.00 503.77h-7.10M119.00 493.87h7.10M815.00 493.87h-7.10M119.00 483.97h7.10M815.00 483.97h-7.10M119.00 474.06h7.10M815.00 474.06h-7.10M119.00 464.16h7.10M815.00 464.16h-7.10M119.00 454.26h7.10M815.00 454.26h-7.10M119.00 444.36h7.10M815.00 444.36h-7.10M119.00 434.46h7.10M815.00 434.46h-7.10M119.00 424.55h7.10M815.00 424.55h-7.10" fill="none" stroke="#000" stroke-width="1.12" stroke-linecap="butt" stroke-linejoin="miter"/>
<text transform="translate(41.60 719.93) scale(1.080 1)" font-size="19.80" text-anchor="start" fill="#000" textLength="48.70" lengthAdjust="spacing" stroke="#fff" stroke-width="0.15" stroke-linejoin="round" >1×10</text>
<text transform="translate(95.60 710.13) scale(1.080 1)" font-size="13.80" text-anchor="start" fill="#000" textLength="14.81" lengthAdjust="spacing" stroke="#fff" stroke-width="0.15" stroke-linejoin="round" >22</text>
<text transform="translate(41.60 620.90) scale(1.080 1)" font-size="19.80" text-anchor="start" fill="#000" textLength="48.70" lengthAdjust="spacing" stroke="#fff" stroke-width="0.15" stroke-linejoin="round" >2×10</text>
<text transform="translate(95.60 611.10) scale(1.080 1)" font-size="13.80" text-anchor="start" fill="#000" textLength="14.81" lengthAdjust="spacing" stroke="#fff" stroke-width="0.15" stroke-linejoin="round" >22</text>
<text transform="translate(41.60 521.88) scale(1.080 1)" font-size="19.80" text-anchor="start" fill="#000" textLength="48.70" lengthAdjust="spacing" stroke="#fff" stroke-width="0.15" stroke-linejoin="round" >3×10</text>
<text transform="translate(95.60 512.08) scale(1.080 1)" font-size="13.80" text-anchor="start" fill="#000" textLength="14.81" lengthAdjust="spacing" stroke="#fff" stroke-width="0.15" stroke-linejoin="round" >22</text>
<text transform="translate(41.60 429.45) scale(1.080 1)" font-size="19.80" text-anchor="start" fill="#000" textLength="48.70" lengthAdjust="spacing" stroke="#fff" stroke-width="0.15" stroke-linejoin="round" >4×10</text>
<text transform="translate(95.60 419.65) scale(1.080 1)" font-size="13.80" text-anchor="start" fill="#000" textLength="14.81" lengthAdjust="spacing" stroke="#fff" stroke-width="0.15" stroke-linejoin="round" >22</text>
<text transform="translate(98.60 810.55) scale(1.080 1)" font-size="19.80" text-anchor="start" fill="#000" textLength="11.48" lengthAdjust="spacing" stroke="#fff" stroke-width="0.15" stroke-linejoin="round" >0</text>
<g transform="translate(22.3 735.85) rotate(-90)">
<text transform="translate(0.00 0.00) scale(1.080 1)" font-size="20.60" text-anchor="start" fill="#000" textLength="71.11" lengthAdjust="spacing" stroke="#fff" stroke-width="0.15" stroke-linejoin="round" >Column</text>
<text transform="translate(90.90 0.00) scale(1.080 1)" font-size="20.60" text-anchor="start" fill="#000" textLength="67.22" lengthAdjust="spacing" stroke="#fff" stroke-width="0.15" stroke-linejoin="round" >density</text>
<text transform="translate(176.00 0.00) scale(1.080 1)" font-size="20.60" text-anchor="start" fill="#000" textLength="36.85" lengthAdjust="spacing" stroke="#fff" stroke-width="0.15" stroke-linejoin="round" >[cm</text>
<text transform="translate(219.30 -10.30) scale(1.080 1)" font-size="13.80" text-anchor="start" fill="#000" textLength="17.22" lengthAdjust="spacing" stroke="#fff" stroke-width="0.15" stroke-linejoin="round" >−2</text>
<text transform="translate(237.60 0.00) scale(1.080 1)" font-size="20.60" text-anchor="start" fill="#000" stroke="#fff" stroke-width="0.15" stroke-linejoin="round" >]</text>
</g>
<text transform="translate(143.00 452.25) scale(1.080 1)" font-size="21.30" text-anchor="start" fill="#000" textLength="46.85" lengthAdjust="spacing" stroke="#fff" stroke-width="0.15" stroke-linejoin="round" >Grav</text>
<text transform="translate(207.00 452.25) scale(1.080 1)" font-size="21.30" text-anchor="start" fill="#000" textLength="29.26" lengthAdjust="spacing" stroke="#fff" stroke-width="0.15" stroke-linejoin="round" >vs.</text>
<text transform="translate(252.60 452.25) scale(1.080 1)" font-size="21.30" text-anchor="start" fill="#000" textLength="168.15" lengthAdjust="spacing" stroke="#fff" stroke-width="0.15" stroke-linejoin="round" >Turb+Mag+Jets</text>
<text transform="translate(143.00 489.65) scale(1.080 1)" font-size="21.30" text-anchor="start" fill="#000" word-spacing="2.00" textLength="306.30" lengthAdjust="spacing" stroke="#fff" stroke-width="0.15" stroke-linejoin="round" >Simulation Resolution = 512</text>
<text transform="translate(476.60 480.45) scale(1.080 1)" font-size="15.20" text-anchor="start" fill="#000" stroke="#fff" stroke-width="0.15" stroke-linejoin="round" >3</text>
<text transform="translate(143.00 525.65) scale(1.080 1)" font-size="21.30" text-anchor="start" fill="#000" textLength="17.04" lengthAdjust="spacing" stroke="#fff" stroke-width="0.15" stroke-linejoin="round" >W</text>
<text transform="translate(163.20 532.05) scale(1.080 1)" font-size="14.60" text-anchor="start" fill="#000" textLength="12.59" lengthAdjust="spacing" font-weight="bold" stroke="#fff" stroke-width="0.15" stroke-linejoin="round" >fil</text>
<text transform="translate(185.00 525.65) scale(1.080 1)" font-size="21.30" text-anchor="start" fill="#000" word-spacing="2.00" textLength="192.59" lengthAdjust="spacing" stroke="#fff" stroke-width="0.15" stroke-linejoin="round" >= (0.09 ± 0.02) pc</text>
<text transform="translate(551.80 452.45) scale(1.080 1)" font-size="20.60" text-anchor="start" fill="#000" textLength="84.26" lengthAdjust="spacing" stroke="#fff" stroke-width="0.15" stroke-linejoin="round" >Filament</text>
<text transform="translate(655.40 452.45) scale(1.080 1)" font-size="20.60" text-anchor="start" fill="#000" textLength="62.22" lengthAdjust="spacing" stroke="#fff" stroke-width="0.15" stroke-linejoin="round" >profile</text>
<text transform="translate(722.20 483.65) scale(1.080 1)" font-size="20.60" text-anchor="end" fill="#ffd700" textLength="101.48" lengthAdjust="spacing" stroke="#fff" stroke-width="0.15" stroke-linejoin="round" >Dispersion</text>
<text transform="translate(593.60 514.65) scale(1.080 1)" font-size="20.60" text-anchor="start" fill="#ff0000" textLength="87.04" lengthAdjust="spacing" stroke="#fff" stroke-width="0.15" stroke-linejoin="round" >Plummer</text>
<text transform="translate(702.40 514.65) scale(1.080 1)" font-size="20.60" text-anchor="start" fill="#ff0000" textLength="18.70" lengthAdjust="spacing" stroke="#fff" stroke-width="0.15" stroke-linejoin="round" >fit</text>
<text transform="translate(592.80 545.25) scale(1.080 1)" font-size="20.60" text-anchor="start" fill="#000080" textLength="87.59" lengthAdjust="spacing" stroke="#fff" stroke-width="0.15" stroke-linejoin="round" >Gaussian</text>
<text transform="translate(702.40 545.25) scale(1.080 1)" font-size="20.60" text-anchor="start" fill="#000080" textLength="18.70" lengthAdjust="spacing" stroke="#fff" stroke-width="0.15" stroke-linejoin="round" >fit</text>
<path d="M729.5 446.85H781.2" stroke="#000" stroke-width="3.6" fill="none"/>
<path d="M729.5 477.65H781.2" stroke="#ffd700" stroke-width="7" fill="none"/>
<path d="M729.5 508.85H781.2" stroke="#ff0000" stroke-width="3.6" stroke-dasharray="17.3 17.2" fill="none"/>
<path d="M728.7 539.35H782" stroke="#000080" stroke-width="3.6" stroke-dasharray="3.6 8.85" fill="none"/>
<path d="M163.60 555.35H379.70V659.05H163.60ZM170.80 659.05v-1.70M170.80 555.35v1.70M178.01 659.05v-1.70M178.01 555.35v1.70M185.21 659.05v-1.70M185.21 555.35v1.70M192.41 659.05v-1.70M192.41 555.35v1.70M199.62 659.05v-1.70M199.62 555.35v1.70M206.82 659.05v-1.70M206.82 555.35v1.70M214.02 659.05v-1.70M214.02 555.35v1.70M221.23 659.05v-1.70M221.23 555.35v1.70M228.43 659.05v-1.70M228.43 555.35v1.70M235.63 659.05v-3.40M235.63 555.35v3.40M242.84 659.05v-1.70M242.84 555.35v1.70M250.04 659.05v-1.70M250.04 555.35v1.70M257.24 659.05v-1.70M257.24 555.35v1.70M264.45 659.05v-1.70M264.45 555.35v1.70M271.65 659.05v-1.70M271.65 555.35v1.70M278.85 659.05v-1.70M278.85 555.35v1.70M286.06 659.05v-1.70M286.06 555.35v1.70M293.26 659.05v-1.70M293.26 555.35v1.70M300.46 659.05v-1.70M300.46 555.35v1.70M307.67 659.05v-3.40M307.67 555.35v3.40M314.87 659.05v-1.70M314.87 555.35v1.70M322.07 659.05v-1.70M322.07 555.35v1.70M329.28 659.05v-1.70M329.28 555.35v1.70M336.48 659.05v-1.70M336.48 555.35v1.70M343.68 659.05v-1.70M343.68 555.35v1.70M350.89 659.05v-1.70M350.89 555.35v1.70M358.09 659.05v-1.70M358.09 555.35v1.70M365.29 659.05v-1.70M365.29 555.35v1.70M372.50 659.05v-1.70M372.50 555.35v1.70M163.60 656.46h2.30M379.70 656.46h-2.30M163.60 653.87h2.30M379.70 653.87h-2.30M163.60 651.27h2.30M379.70 651.27h-2.30M163.60 648.68h2.30M379.70 648.68h-2.30M163.60 646.09h2.30M379.70 646.09h-2.30M163.60 643.50h2.30M379.70 643.50h-2.30M163.60 640.90h2.30M379.70 640.90h-2.30M163.60 638.31h2.30M379.70 638.31h-2.30M163.60 635.72h2.30M379.70 635.72h-2.30M163.60 633.12h4.60M379.70 633.12h-4.60M163.60 630.53h2.30M379.70 630.53h-2.30M163.60 627.94h2.30M379.70 627.94h-2.30M163.60 625.35h2.30M379.70 625.35h-2.30M163.60 622.75h2.30M379.70 622.75h-2.30M163.60 620.16h2.30M379.70 620.16h-2.30M163.60 617.57h2.30M379.70 617.57h-2.30M163.60 614.98h2.30M379.70 614.98h-2.30M163.60 612.38h2.30M379.70 612.38h-2.30M163.60 609.79h2.30M379.70 609.79h-2.30M163.60 607.20h4.60M379.70 607.20h-4.60M163.60 604.61h2.30M379.70 604.61h-2.30M163.60 602.01h2.30M379.70 602.01h-2.30M163.60 599.42h2.30M379.70 599.42h-2.30M163.60 596.83h2.30M379.70 596.83h-2.30M163.60 594.24h2.30M379.70 594.24h-2.30M163.60 591.64h2.30M379.70 591.64h-2.30M163.60 589.05h2.30M379.70 589.05h-2.30M163.60 586.46h2.30M379.70 586.46h-2.30M163.60 583.87h2.30M379.70 583.87h-2.30M163.60 581.27h4.60M379.70 581.27h-4.60M163.60 578.68h2.30M379.70 578.68h-2.30M163.60 576.09h2.30M379.70 576.09h-2.30M163.60 573.50h2.30M379.70 573.50h-2.30M163.60 570.90h2.30M379.70 570.90h-2.30M163.60 568.31h2.30M379.70 568.31h-2.30M163.60 565.72h2.30M379.70 565.72h-2.30M163.60 563.13h2.30M379.70 563.13h-2.30M163.60 560.53h2.30M379.70 560.53h-2.30M163.60 557.94h2.30M379.70 557.94h-2.30" fill="none" stroke="#000" stroke-width="1.12"/>
<path d="M185.01 659.05V633.30H199.42V609.30H213.82V572.10H228.23V595.30H242.64V624.70H257.04V659.05" fill="none" stroke="#000" stroke-width="1.25" stroke-linejoin="miter"/>
<text transform="translate(260.60 582.35) scale(1.080 1)" font-size="21.00" text-anchor="start" fill="#000" textLength="100.37" lengthAdjust="spacing" stroke="#fff" stroke-width="0.15" stroke-linejoin="round" >Histogram</text>
<text transform="translate(146.60 690.25) scale(1.080 1)" font-size="19.80" text-anchor="start" fill="#000" textLength="30.37" lengthAdjust="spacing" stroke="#fff" stroke-width="0.15" stroke-linejoin="round" >0.0</text>
<text transform="translate(218.63 690.25) scale(1.080 1)" font-size="19.80" text-anchor="start" fill="#000" textLength="30.37" lengthAdjust="spacing" stroke="#fff" stroke-width="0.15" stroke-linejoin="round" >0.1</text>
<text transform="translate(290.67 690.25) scale(1.080 1)" font-size="19.80" text-anchor="start" fill="#000" textLength="30.37" lengthAdjust="spacing" stroke="#fff" stroke-width="0.15" stroke-linejoin="round" >0.2</text>
<text transform="translate(362.70 690.25) scale(1.080 1)" font-size="19.80" text-anchor="start" fill="#000" textLength="30.37" lengthAdjust="spacing" stroke="#fff" stroke-width="0.15" stroke-linejoin="round" >0.3</text>
<text transform="translate(214.00 715.25) scale(1.080 1)" font-size="20.60" text-anchor="start" fill="#000" textLength="51.85" lengthAdjust="spacing" stroke="#fff" stroke-width="0.15" stroke-linejoin="round" >Width</text>
<text transform="translate(283.60 715.25) scale(1.080 1)" font-size="20.60" text-anchor="start" fill="#000" textLength="39.44" lengthAdjust="spacing" stroke="#fff" stroke-width="0.15" stroke-linejoin="round" >[pc]</text>
<text transform="translate(93.20 841.30) scale(1.080 1)" font-size="19.80" text-anchor="start" fill="#000" textLength="45.93" lengthAdjust="spacing" stroke="#fff" stroke-width="0.15" stroke-linejoin="round" >−1.0</text>
<text transform="translate(267.60 841.30) scale(1.080 1)" font-size="19.80" text-anchor="start" fill="#000" textLength="46.11" lengthAdjust="spacing" stroke="#fff" stroke-width="0.15" stroke-linejoin="round" >−0.5</text>
<text transform="translate(449.40 841.30) scale(1.080 1)" font-size="19.80" text-anchor="start" fill="#000" textLength="30.19" lengthAdjust="spacing" stroke="#fff" stroke-width="0.15" stroke-linejoin="round" >0.0</text>
<text transform="translate(623.80 841.30) scale(1.080 1)" font-size="19.80" text-anchor="start" fill="#000" textLength="30.37" lengthAdjust="spacing" stroke="#fff" stroke-width="0.15" stroke-linejoin="round" >0.5</text>
<text transform="translate(799.60 841.30) scale(1.080 1)" font-size="19.80" text-anchor="start" fill="#000" textLength="29.26" lengthAdjust="spacing" stroke="#fff" stroke-width="0.15" stroke-linejoin="round" >1.0</text>
<text transform="translate(403.00 868.20) scale(1.080 1)" font-size="20.60" text-anchor="start" fill="#000" textLength="65.00" lengthAdjust="spacing" stroke="#fff" stroke-width="0.15" stroke-linejoin="round" >Radius</text>
<text transform="translate(485.80 868.20) scale(1.080 1)" font-size="20.60" text-anchor="start" fill="#000" textLength="40.56" lengthAdjust="spacing" stroke="#fff" stroke-width="0.15" stroke-linejoin="round" >[pc]</text>
</g>
</svg>
</body></html>
